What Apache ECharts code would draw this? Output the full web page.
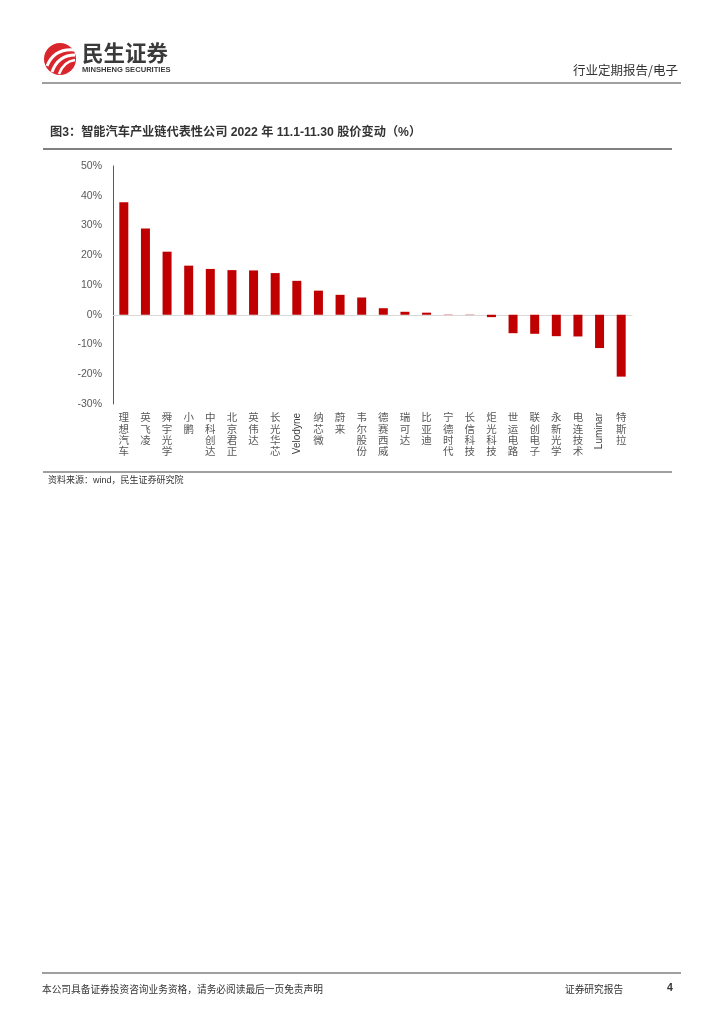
<!DOCTYPE html>
<html>
<head>
<meta charset="utf-8">
<script src="https://cdn.jsdelivr.net/npm/echarts@6/dist/echarts.min.js"></script>
<style>
html,body{margin:0;padding:0;background:#fff;}
#c{width:724px;height:1024px;}
</style>
</head>
<body>
<div id="c"></div>
<script>
const categories = ['理想汽车','英飞凌','舜宇光学','小鹏','中科创达','北京君正','英伟达','长光华芯','Velodyne','纳芯微','蔚来','韦尔股份','德赛西威','瑞可达','比亚迪','宁德时代','长信科技','炬光科技','世运电路','联创电子','永新光学','电连技术','Luminar','特斯拉'];
const values = [37.8, 29.0, 21.2, 16.5, 15.4, 15.0, 14.9, 14.0, 11.4, 8.1, 6.7, 5.8, 2.2, 1.0, 0.7, -0.1, -0.1, -0.8, -6.2, -6.4, -7.2, -7.3, -11.2, -20.8];
const yMin = -30, yMax = 50, yStep = 10;
const titleText = '图3：智能汽车产业链代表性公司 2022 年 11.1-11.30 股价变动（%）';
const sourceText = '资料来源：wind，民生证券研究院';
const headerRight = '行业定期报告/电子';
const footerLeft = '本公司具备证券投资咨询业务资格，请务必阅读最后一页免责声明';
const footerRight = '证券研究报告';
const pageNo = '4';

const FONT = '"Liberation Sans", "Noto Sans CJK SC", sans-serif';
const isLatin = s => /^[A-Za-z]+$/.test(s);

const chart = echarts.init(document.getElementById('c'), null, {renderer: 'canvas'});
const labelColor = '#595959';

chart.setOption({
  backgroundColor: '#fff',
  animation: false,
  grid: {left: 113, right: 92, top: 166, bottom: 620, containLabel: false},
  xAxis: [{
    type: 'category',
    data: categories,
    position: 'bottom',
    axisLine: {show: false, onZero: false},
    axisTick: {show: false},
    axisLabel: {
      interval: 0, margin: 9, color: labelColor, fontSize: 10.5, lineHeight: 11.2,
      fontFamily: FONT, verticalAlign: 'top',
      formatter: v => isLatin(v) ? '' : v.split('').join('\n')
    }
  }, {
    type: 'category',
    data: categories,
    position: 'bottom',
    axisLine: {show: false, onZero: false},
    axisTick: {show: false},
    axisLabel: {
      interval: 0, margin: 9, rotate: 90, color: '#404040', fontSize: 10,
      fontFamily: FONT,
      formatter: v => isLatin(v) ? v : ''
    }
  }],
  yAxis: {
    type: 'value',
    min: yMin, max: yMax, interval: yStep,
    axisLine: {show: true, lineStyle: {color: '#595959', width: 1}},
    axisTick: {show: false},
    splitLine: {show: false},
    axisLabel: {margin: 11, color: labelColor, fontSize: 10.5, fontFamily: FONT, formatter: '{value}%'}
  },
  series: [{
    type: 'bar',
    data: values,
    barWidth: 9,
    itemStyle: {color: '#C00000'},
    markLine: {
      silent: true, symbol: 'none', label: {show: false},
      lineStyle: {color: '#d9d9d9', width: 1, type: 'solid'},
      data: [{yAxis: 0}],
      z: 1
    },
    z: 2
  }],
  graphic: [
    // logo
    {type: 'circle', shape: {cx: 60, cy: 59, r: 16}, style: {fill: '#d9262c'}},
    {type: 'bezierCurve', shape: {x1: 47, y1: 66, cpx1: 52, cpy1: 54, cpx2: 62, cpy2: 49, x2: 74, y2: 50}, style: {stroke: '#fff', lineWidth: 3, fill: null}},
    {type: 'bezierCurve', shape: {x1: 52, y1: 72, cpx1: 56, cpy1: 61, cpx2: 64, cpy2: 55, x2: 75, y2: 55}, style: {stroke: '#fff', lineWidth: 3, fill: null}},
    {type: 'bezierCurve', shape: {x1: 59, y1: 74, cpx1: 62, cpy1: 66, cpx2: 67, cpy2: 61, x2: 75, y2: 60}, style: {stroke: '#fff', lineWidth: 2.5, fill: null}},
    {type: 'text', left: 82, top: 42, style: {text: '民生证券', font: 'bold 21.5px "Noto Sans CJK SC"', fill: '#3a3a3a'}},
    {type: 'text', left: 82, top: 66, style: {text: 'MINSHENG SECURITIES', font: 'bold 7.6px "Liberation Sans", sans-serif', fill: '#3a3a3a'}},
    // header
    {type: 'text', right: 46, top: 64, style: {text: headerRight, font: '12.5px "Noto Sans CJK SC"', fill: '#333', textAlign: 'right'}},
    {type: 'line', shape: {x1: 42, y1: 83, x2: 681, y2: 83}, style: {stroke: '#7f7f7f', lineWidth: 1.5}},
    // title
    {type: 'text', left: 50, top: 127, style: {text: titleText, font: 'bold 12.2px ' + FONT, fill: '#333'}},
    {type: 'line', shape: {x1: 43, y1: 149, x2: 672, y2: 149}, style: {stroke: '#808080', lineWidth: 2}},
    // source
    {type: 'line', shape: {x1: 43, y1: 472, x2: 672, y2: 472}, style: {stroke: '#808080', lineWidth: 1.5}},
    {type: 'text', left: 48, top: 476, style: {text: sourceText, font: '9px ' + FONT, fill: '#333'}},
    // footer
    {type: 'line', shape: {x1: 42, y1: 973, x2: 681, y2: 973}, style: {stroke: '#7f7f7f', lineWidth: 1.5}},
    {type: 'text', left: 42, top: 984, style: {text: footerLeft, font: '9.7px "Noto Sans CJK SC"', fill: '#333'}},
    {type: 'text', left: 565, top: 984, style: {text: footerRight, font: '9.7px "Noto Sans CJK SC"', fill: '#333'}},
    {type: 'text', left: 667, top: 983, style: {text: pageNo, font: 'bold 10.5px "Liberation Sans"', fill: '#333'}}
  ]
});
</script>
</body>
</html>
